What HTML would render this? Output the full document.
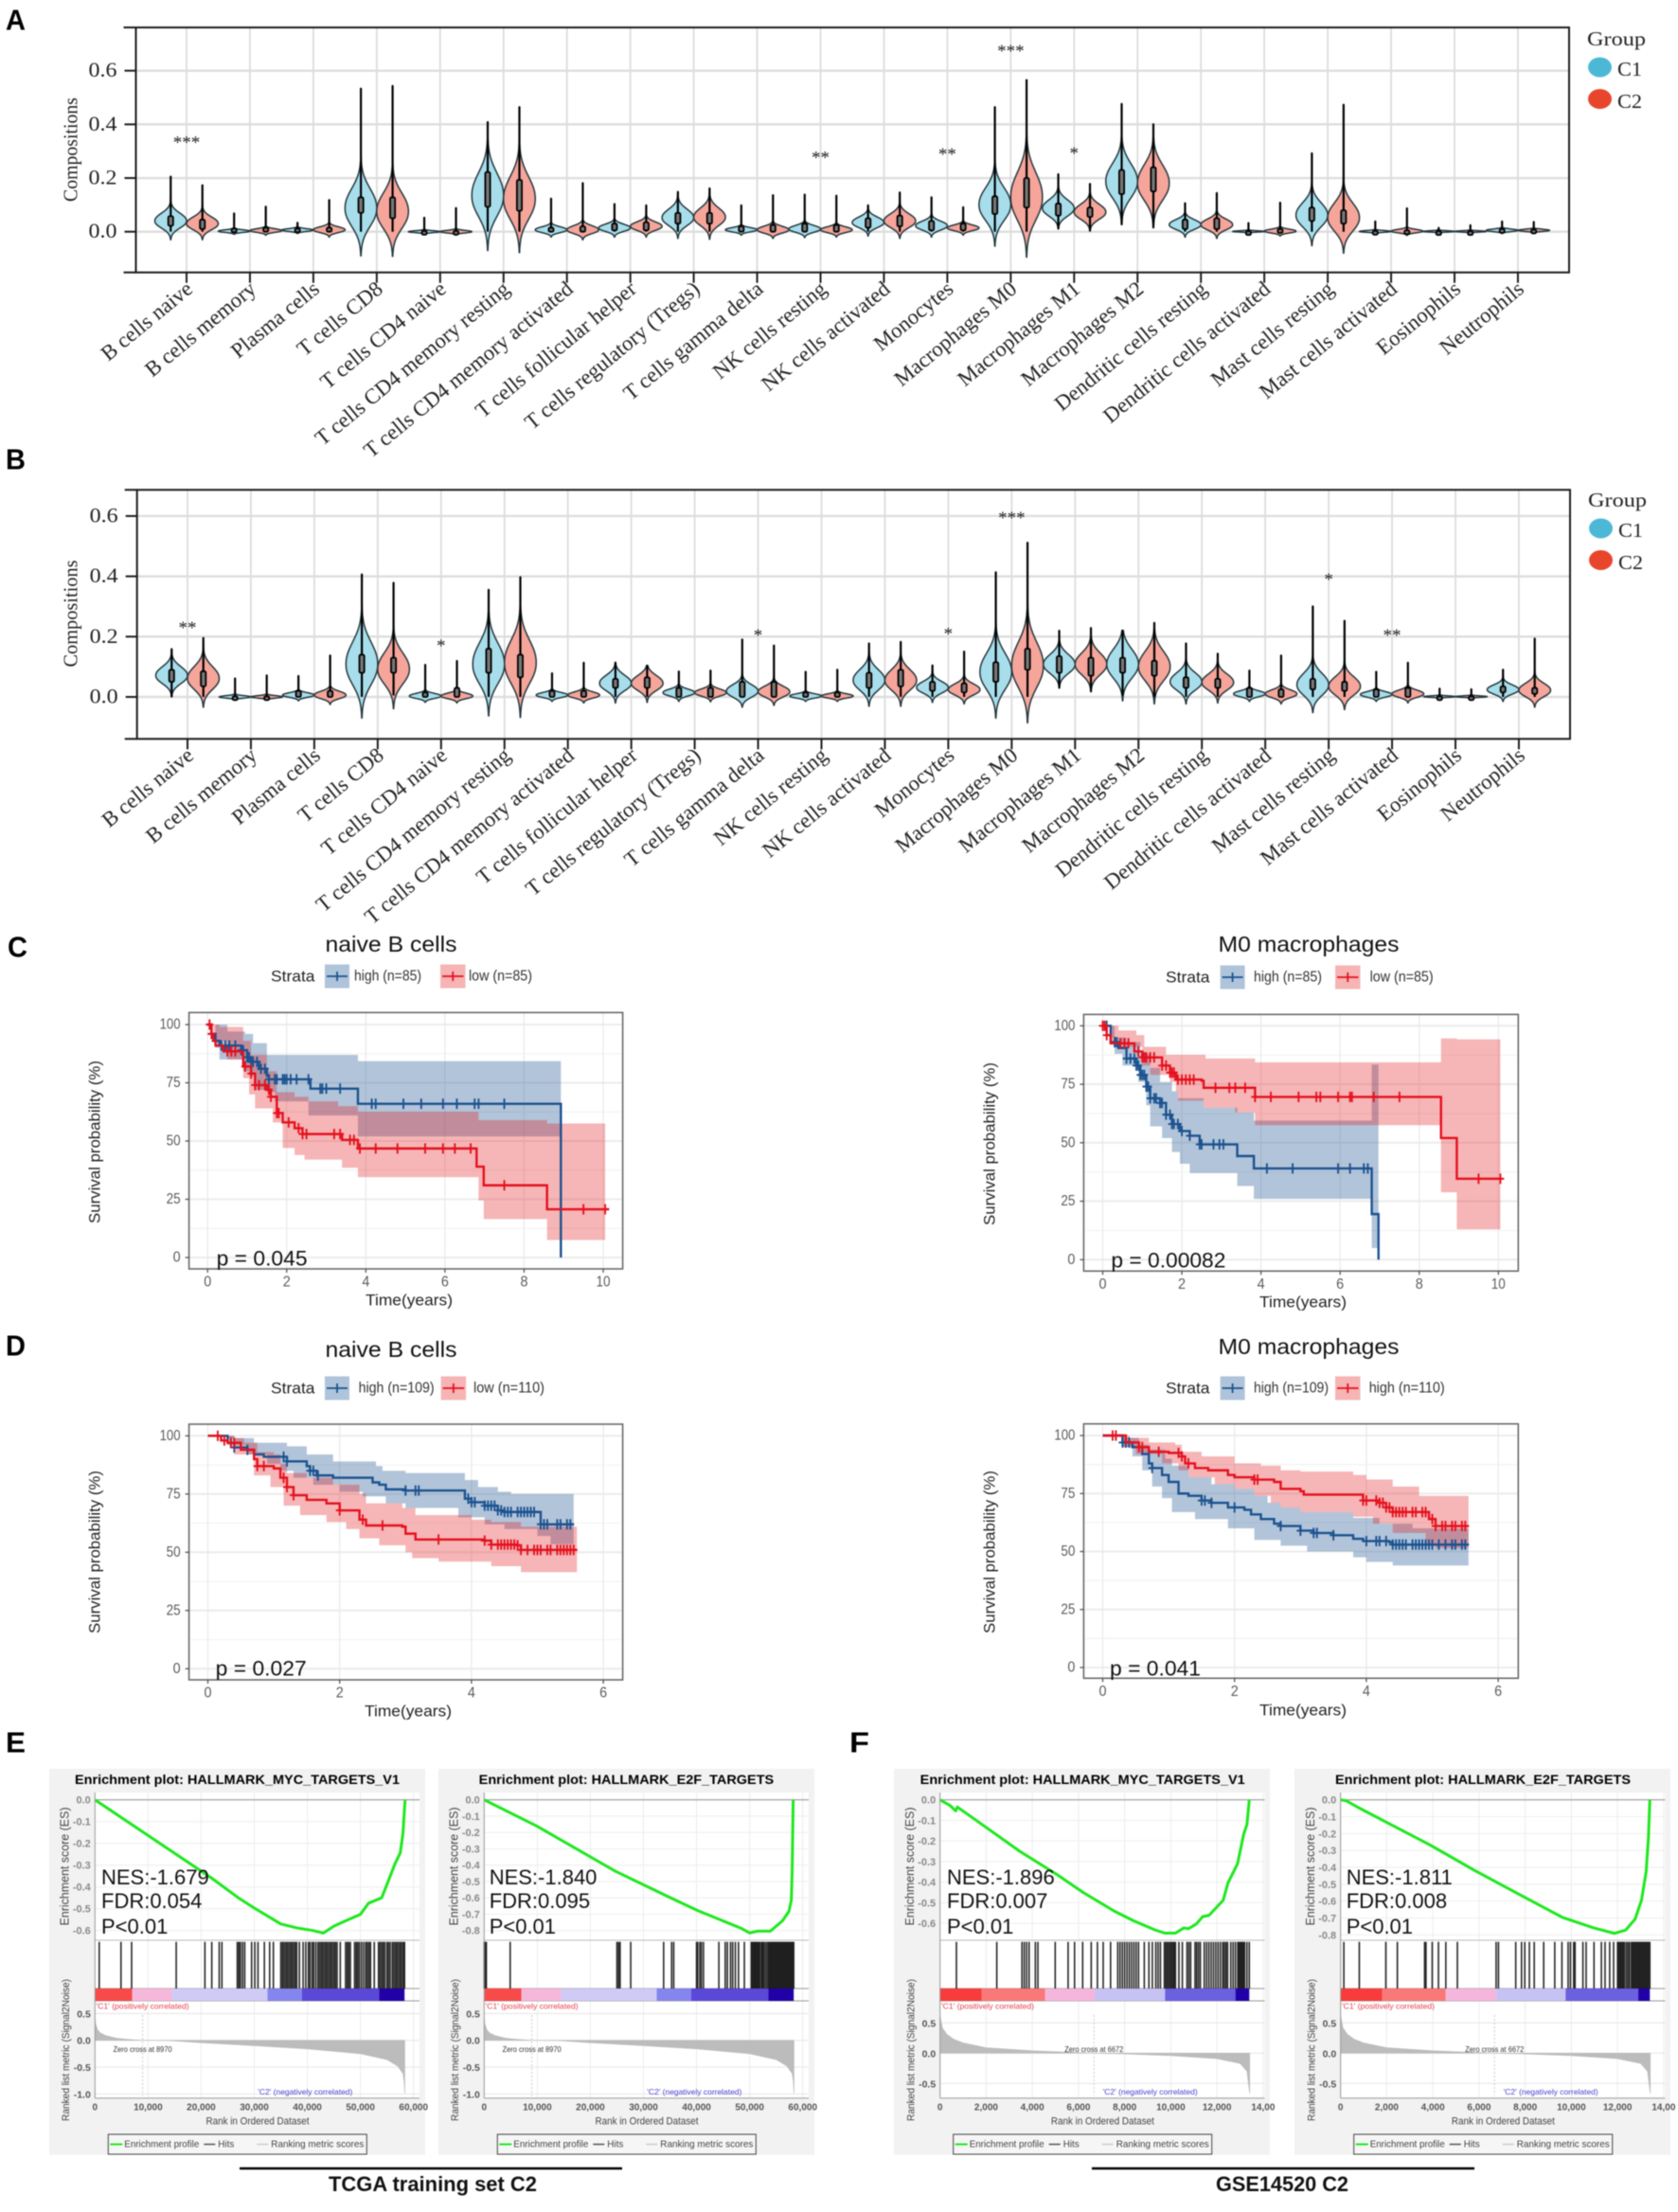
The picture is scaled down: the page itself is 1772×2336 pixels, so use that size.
<!DOCTYPE html>
<html lang="en">
<head>
<meta charset="utf-8">
<title>Immune infiltration, survival and GSEA figure</title>
<style>
html,body{margin:0;padding:0;background:#fff;}
#figure{display:block;width:1772px;height:2336px;filter:blur(0.55px);}
text{white-space:pre;}
</style>
</head>
<body>
<svg id="figure" xmlns="http://www.w3.org/2000/svg" width="1772" height="2336" viewBox="0 0 1772 2336"></svg>
<script>
/* ---------- violin data ---------- */
const cellTypes=["B cells naive","B cells memory","Plasma cells","T cells CD8","T cells CD4 naive","T cells CD4 memory resting","T cells CD4 memory activated","T cells follicular helper","T cells regulatory (Tregs)","T cells gamma delta","NK cells resting","NK cells activated","Monocytes","Macrophages M0","Macrophages M1","Macrophages M2","Dendritic cells resting","Dendritic cells activated","Mast cells resting","Mast cells activated","Eosinophils","Neutrophils"];
const violinTicks=["0.0","0.2","0.4","0.6"];
const violinTickValues=[0,0.2,0.4,0.6];
const aC1Max=[.207,.07,.035,.535,.054,.41,.125,.105,.15,.1,.14,.1,.13,.466,.216,.478,.108,.034,.294,.04,.016,.04];
const aC1Min=[-.03,-.01,-.007,-.09,-.009,-.07,-.02,-.02,-.025,-.013,-.022,-.016,-.02,-.054,.01,.026,-.02,-.005,-.052,-.007,-.004,-.007];
const aC1Mode=[.04,.002,.006,.087,0,.134,.007,.014,.052,.007,.01,.034,.022,.1,.087,.187,.026,.001,.061,.001,.001,.005];
const aC1Q1=[.022,0,0,.07,0,.093,0,.005,.03,0,0,.015,.005,.066,.06,.14,.01,0,.04,0,0,0];
const aC1Q3=[.058,.012,.012,.128,.003,.222,.015,.03,.07,.02,.03,.05,.04,.132,.105,.23,.045,.002,.09,.003,.002,.01];
const aC2Max=[.175,.095,.12,.545,.09,.466,.183,.1,.163,.138,.136,.148,.093,.567,.18,.402,.146,.11,.475,.089,.026,.038];
const aC2Min=[-.03,-.013,-.02,-.092,-.012,-.078,-.03,-.02,-.028,-.025,-.02,-.025,-.013,-.095,.002,.014,-.025,-.016,-.08,-.014,-.005,-.005];
const aC2Mode=[.03,.004,.007,.075,0,.122,.007,.02,.054,.007,.007,.04,.014,.128,.073,.18,.026,.002,.052,.002,.001,.005];
const aC2Q1=[.01,0,0,.05,0,.078,0,.005,.03,0,0,.02,.005,.09,.055,.15,.01,0,.03,0,0,0];
const aC2Q3=[.045,.015,.015,.128,.003,.193,.02,.035,.07,.025,.025,.06,.03,.2,.09,.24,.05,.01,.08,.005,.002,.008];
const aStars=["***","","","","","","","","","","**","","**","***","*","","","","","","",""];
const aStarValues=[.345,0,0,0,0,0,0,0,0,0,.288,0,.3,.685,.305,0,0,0,0,0,0,0];
const bC1Max=[.16,.063,.071,.408,.108,.357,.08,.115,.086,.192,.085,.179,.106,.415,.221,.221,.179,.089,.302,.085,.029,.092];
const bC1Min=[0,-.01,-.013,-.07,-.018,-.063,-.015,-.02,-.015,-.034,-.015,-.031,-.018,-.07,.029,-.013,-.023,-.015,-.052,-.015,-.005,-.015];
const bC1Mode=[.071,0,.006,.108,.003,.108,.006,.045,.014,.019,.003,.055,.031,.082,.108,.108,.05,.01,.04,.008,.001,.024];
const bC1Q1=[.05,0,0,.08,0,.08,0,.03,0,0,0,.03,.02,.05,.08,.08,.03,0,.025,0,0,.015];
const bC1Q3=[.09,.002,.02,.14,.015,.16,.02,.06,.03,.05,.015,.08,.05,.115,.135,.13,.065,.03,.06,.025,.002,.035];
const bC2Max=[.197,.073,.139,.38,.121,.399,.115,.105,.089,.172,.092,.184,.152,.513,.23,.247,.145,.139,.254,.115,.027,.195];
const bC2Min=[-.034,-.01,-.025,-.039,-.02,-.068,-.02,-.018,-.016,-.028,-.015,-.031,-.023,-.086,.017,-.023,-.02,-.023,-.042,-.02,-.005,-.034];
const bC2Mode=[.061,0,.006,.092,.003,.113,.006,.045,.014,.017,.003,.055,.024,.103,.108,.1,.048,.01,.035,.01,.001,.022];
const bC2Q1=[.035,0,0,.08,0,.065,0,.03,0,0,0,.035,.015,.09,.07,.07,.03,0,.02,0,0,.01];
const bC2Q3=[.085,.002,.02,.13,.03,.14,.02,.065,.03,.05,.015,.09,.045,.16,.13,.12,.06,.025,.05,.03,.002,.03];
const bStars=["**","","","","*","","","","","*","","","*","***","","","","","*","**","",""];
const bStarValues=[.24,0,0,0,.18,0,0,0,0,.215,0,0,.22,.605,0,0,0,0,.4,.215,0,0];

/* ---------- survival data: [years, survival %] ---------- */
const cLeftHigh=[[0,100],[.1,96],[.2,93],[.3,91],[.85,89],[1,86],[1.1,84],[1.3,81],[1.5,78],[1.55,76.5],[2.6,72.5],[3.8,66],[8.93,0]];
const cLeftHighUpper=[[0,100],[.5,97],[.95,96],[1.15,92],[1.5,87],[3.8,84.3],[8.93,84.3]];
const cLeftHighLower=[[0,100],[.2,90],[.3,85],[.9,80],[1.05,78],[1.2,72],[1.5,71],[1.7,67],[2.55,61],[3.8,52],[8.93,52]];
const cLeftHighCensor=[.1,.2,.35,.45,.55,.7,.85,.9,1,1.05,1.1,1.15,1.25,1.35,1.45,1.55,1.7,1.75,1.9,1.95,2,2.1,2.25,2.55,2.85,2.9,3,3.35,4.15,4.25,4.95,5.4,5.95,6.3,6.75,6.85,7.5];
const cLeftLow=[[0,100],[.1,96],[.15,93],[.2,91],[.4,88.5],[.85,88],[.9,82],[1.1,79],[1.2,74],[1.5,72],[1.6,69],[1.75,62],[1.9,58],[2.2,55.5],[2.4,53],[3.4,50.5],[3.8,46.8],[6.8,39],[6.98,31],[8.58,20.7],[10.15,20.7]];
const cLeftLowUpper=[[0,100],[.3,99],[.9,93],[1.1,87],[1.5,80],[1.75,71],[2.2,69],[2.55,67],[3.3,65],[3.8,62.6],[6.85,59],[8.58,57.5],[10.05,57.5]];
const cLeftLowLower=[[0,100],[.15,93],[.5,85],[.9,77],[1.05,70],[1.2,64],[1.65,58],[1.9,47],[2.2,44],[2.45,42],[3.4,38.5],[3.8,34.5],[6.85,24.5],[6.98,16.5],[8.58,7.5],[10.05,7.5]];
const cLeftLowCensor=[.05,.1,.5,.6,.7,.95,1.1,1.2,1.3,1.45,1.55,1.6,1.75,1.8,2.05,2.3,2.4,2.5,3.2,3.35,3.6,3.7,3.85,4.25,4.8,5.5,5.95,6.25,6.65,7.5,9.5,10.05];

const cRightHigh=[[0,100],[.2,93],[.4,90.5],[.6,86],[.85,83],[.95,79],[1.1,74],[1.2,69],[1.45,67],[1.6,62],[1.75,58],[1.95,55],[2.2,53],[2.45,49.3],[3.4,44.3],[3.82,39],[6.8,19.5],[6.97,0]];
const cRightHighUpper=[[0,100],[.2,95],[.6,93],[.95,88],[1.2,82],[1.45,76],[1.75,72],[1.9,69],[2.55,65],[3.4,63],[3.82,59.5],[6.8,83.4],[6.97,83.4]];
const cRightHighLower=[[0,100],[.3,88],[.5,83],[.9,76],[1.1,66],[1.2,57],[1.5,52],[1.75,46],[1.95,41],[2.2,37],[3.4,31.5],[3.82,26],[6.8,5],[6.97,5]];
const cRightHighCensor=[.1,.3,.35,.6,.7,.8,.85,.9,.95,1,1.05,1.1,1.15,1.2,1.3,1.35,1.45,1.5,1.6,1.7,1.75,1.8,1.9,2,2.2,2.45,2.5,2.8,2.95,3.05,4.15,4.8,5.95,6.25,6.6,6.7];
const cRightLow=[[0,100],[.1,96],[.2,92.5],[.65,92.5],[.8,89],[1,86.5],[1.5,83],[1.7,80],[1.85,77],[2.5,76.5],[2.55,73.5],[3.85,69.6],[8.55,52],[8.95,34.6],[10.1,34.6]];
const cRightLowUpper=[[0,100],[.4,98],[.85,96],[1.05,91],[1.6,87.6],[2.6,86],[3.85,84.4],[8.55,94.6],[8.95,94.2],[10.05,94.2]];
const cRightLowLower=[[0,100],[.2,93],[.5,91],[1,83],[1.2,79],[1.7,76],[1.85,72],[1.9,68],[2.55,65],[3.35,63],[3.85,57.5],[8.55,28.8],[8.95,13],[10.05,13]];
const cRightLowCensor=[0,.05,.1,.45,.55,.65,.9,1,1.05,1.1,1.2,1.3,1.5,1.6,1.7,1.75,1.8,1.9,2,2.1,2.2,2.3,2.85,3.2,3.35,3.6,3.85,4.25,4.95,5.4,5.5,5.95,6.25,6.3,6.85,7.5,9.5,10.05];

const dLeftHigh=[[0,100],[.3,97],[.4,95],[.6,94],[.7,92],[.85,91],[1.2,89],[1.5,87],[1.55,85],[1.65,83],[1.9,82],[2.5,80],[2.6,79],[2.7,77],[3,76.5],[3.9,73],[4,71.5],[4.2,70],[4.4,68],[4.5,67.3],[5.05,62],[5.55,62]];
const dLeftHighUpper=[[0,100],[.4,99],[.7,97],[1.2,95.5],[1.5,92],[1.9,89],[2.55,87],[2.65,85],[3,84],[3.9,81],[4.1,78],[4.4,76],[4.6,75],[5.55,75]];
const dLeftHighLower=[[0,100],[.3,96],[.6,92],[.9,88],[1.1,85],[1.3,82],[1.6,79],[2,76],[2.35,74],[2.7,71],[3,69],[3.8,65],[4.2,62],[4.5,60],[5,57],[5.2,53.5],[5.55,53.5]];
const dLeftHighCensor=[.35,.4,.6,1.15,1.2,1.55,1.6,1.67,3,3.15,3.2,3.95,4,4.05,4.2,4.25,4.3,4.35,4.4,4.45,4.5,4.55,4.6,4.7,4.75,4.8,4.85,4.9,4.95,5.05,5.1,5.15,5.3,5.35,5.45,5.5];
const dLeftLow=[[0,100],[.2,98],[.3,97],[.5,94],[.7,90],[.75,87],[1,86],[1.1,82],[1.2,78],[1.3,74.5],[1.5,72.5],[1.8,71],[2,68],[2.3,64],[2.4,61.5],[2.95,61],[3,58],[3.15,55.5],[4.2,55],[4.3,53.3],[4.7,53],[4.75,51],[5.6,51]];
const dLeftLowUpper=[[0,100],[.3,99],[.55,97],[.75,93],[1,92],[1.1,88],[1.2,84],[1.5,82],[1.9,79],[2.3,75],[2.4,71],[2.95,69],[3.15,66],[4,64],[4.3,63],[4.75,61],[5.6,60]];
const dLeftLowLower=[[0,100],[.4,92],[.7,83],[.95,78],[1.15,70],[1.4,66],[1.8,63],[2.1,60],[2.3,56],[2.6,53],[3,50],[3.1,47.5],[3.5,46],[4.3,44],[4.75,41.5],[5.6,41.5]];
const dLeftLowCensor=[.15,.25,.35,.4,.75,.85,1.15,1.2,1.3,2,2.35,2.65,3.5,4.2,4.3,4.4,4.45,4.5,4.55,4.6,4.65,4.7,4.75,4.85,4.95,5,5.05,5.15,5.2,5.3,5.35,5.4,5.45,5.5,5.55];

const dRightHigh=[[0,100],[.3,97],[.45,95],[.6,92],[.7,88],[.75,86],[.9,83],[1,80],[1.15,75],[1.3,74],[1.5,72],[1.65,71],[1.9,69],[2.15,68],[2.25,66],[2.4,64],[2.6,62],[2.7,61],[3,59],[3.2,58],[3.5,57],[3.8,55.5],[3.95,54.5],[4.35,54],[4.4,53],[5.55,53]];
const dRightHighUpper=[[0,100],[.3,99],[.55,96],[.7,94],[.95,90],[1.05,87],[1.3,82],[1.65,79],[2,77],[2.3,74],[2.5,71],[2.7,69],[3,67],[3.8,64.5],[4.2,62],[4.7,60],[5.55,58]];
const dRightHighLower=[[0,100],[.3,95],[.45,91],[.6,85],[.75,78],[.9,73],[1.05,67],[1.4,64],[1.9,60],[2.3,55],[2.7,52.5],[3.1,50],[3.8,47.5],[4,45.5],[4.4,44],[5.55,44]];
const dRightHighCensor=[.3,.35,.4,.75,1.5,1.55,1.65,2,2.7,3,3.2,3.25,3.5,4,4.15,4.2,4.3,4.4,4.45,4.5,4.55,4.6,4.7,4.75,4.8,4.85,4.9,4.95,5,5.1,5.2,5.3,5.35,5.45,5.5];
const dRightLow=[[0,100],[.35,97],[.55,95],[.7,93],[1,92.5],[1.2,91],[1.25,88],[1.4,86],[1.6,85],[1.9,83],[2,82],[2.3,81],[2.6,80],[2.7,77],[3,76],[3.05,74.5],[3.95,72],[4.2,71],[4.3,69],[4.4,67],[4.95,64],[5.05,61],[5.55,61]];
const dRightLowUpper=[[0,100],[.4,99],[.7,97],[1.1,96],[1.2,93],[1.5,91],[2,88],[2.4,87],[2.7,85],[3,84.5],[3.8,83],[4,81],[4.4,78],[4.8,74],[5.55,73]];
const dRightLowLower=[[0,100],[.3,95],[.5,92],[.9,88],[1.15,85],[1.3,82],[1.7,79],[2,77],[2.3,74],[2.55,71],[2.7,69],[3,67],[3.8,65],[4.1,62],[4.4,58],[4.9,53],[5.05,51.5],[5.55,51]];
const dRightLowCensor=[.15,.2,.55,.6,.85,1.15,1.2,1.3,2.3,2.35,3.95,4,4.15,4.2,4.25,4.3,4.35,4.4,4.45,4.5,4.55,4.6,4.7,4.75,4.85,4.9,5,5.05,5.15,5.2,5.3,5.35,5.45,5.5];
const survivalTicks=[0,25,50,75,100];
const timeTicksLong=[0,2,4,6,8,10];
const timeTicksShort=[0,2,4,6];

/* ---------- GSEA data: rank in thousands ---------- */
const esMycTcga=[[0,0],[22,-.36],[27,-.45],[30,-.497],[35,-.57],[38,-.588],[41,-.6],[43,-.612],[45,-.58],[47,-.558],[50,-.526],[51.5,-.475],[54,-.45],[55,-.388],[56.5,-.294],[57.5,-.243],[58,-.156],[58.4,0]];
const esE2fTcga=[[0,0],[9.87,-.16],[24.7,-.437],[34.8,-.595],[40.2,-.678],[48.5,-.788],[50,-.815],[51.5,-.804],[53.9,-.804],[56.2,-.74],[57.4,-.682],[57.85,-.614],[58,-.44],[58.2,0]];
const esMycGeo=[[0,0],[.44,-.028],[.68,-.054],[.75,-.035],[2.2,-.15],[3.45,-.25],[5.09,-.365],[6.2,-.45],[7.55,-.541],[8.37,-.587],[9.33,-.633],[9.74,-.648],[10.2,-.648],[10.56,-.623],[10.77,-.626],[11.1,-.604],[11.38,-.568],[11.66,-.561],[12.27,-.488],[12.48,-.403],[12.89,-.311],[13.16,-.166],[13.3,-.12],[13.4,0]];
const esE2fGeo=[[0,0],[.25,-.006],[.73,-.043],[1.96,-.131],[3.87,-.267],[5.79,-.417],[7.7,-.557],[9.62,-.697],[10.98,-.759],[11.87,-.791],[12.35,-.772],[12.76,-.707],[13.04,-.594],[13.24,-.426],[13.34,-.221],[13.4,0]];
const hitsMycTcga=[.8,4.9,6.9,15.3,20.7,22,23.4,23.9,26.8,27.1,27.4,27.8,28.2,29.5,30.1,30.7,31.9,32.9,33.6,35,35.3,35.6,35.9,36.2,36.5,36.8,37.1,37.4,37.7,38,38.5,39.2,39.7,40.2,40.5,40.9,41.2,41.6,42,42.3,42.6,42.9,43.2,43.5,43.8,44.1,44.4,44.7,45,45.3,45.6,46.2,47.2,47.5,47.8,48.1,48.9,49.2,49.5,49.8,50.2,50.6,51,51.3,51.6,51.9,52.6,53.4,53.7,54,54.3,54.6,55,55.3,55.6,56,56.3,56.6,56.9,57.2,57.5,57.8,58.1,58.3];
const hitsE2fTcga=[0,.2,.4,4.9,25,25.3,25.6,27.6,33.8,35.3,35.7,40,40.2,40.6,40.9,41.3,44.2,45.4,45.8,46.4,46.8,47.3,47.9,49,50.3,50.5,50.7,50.9,51.1,51.3,51.5,51.7,51.9,52.2,52.4,52.6,52.9,53.2,53.5,53.7,53.9,54.1,54.3,54.5,54.7,54.9,55.1,55.3,55.5,55.7,55.9,56.1,56.3,56.5,56.7,56.9,57.1,57.3,57.5,57.7,57.9,58.1,58.3];
const hitsMycGeo=[.71,2.46,3.55,3.65,3.75,3.86,4.13,4.24,4.99,5.55,5.83,6.18,6.55,6.82,7.07,7.39,7.7,7.8,7.9,8,8.1,8.2,8.3,8.4,8.5,8.6,8.85,9.05,9.2,9.35,9.45,9.55,9.72,9.78,9.84,9.9,9.96,10.02,10.08,10.14,10.2,10.35,10.5,10.7,10.78,10.86,11.05,11.12,11.2,11.28,11.45,11.55,11.65,11.75,11.85,11.95,12.05,12.15,12.25,12.32,12.39,12.46,12.6,12.7,12.8,12.9,12.95,13,13.05,13.1,13.15,13.2,13.3,13.4];
const hitsE2fGeo=[.14,.81,1.96,2.46,3.64,3.7,3.97,4.24,4.56,5.06,6.74,6.84,7.59,7.84,7.98,8.18,8.39,8.8,9.28,9.59,9.86,9.96,10.1,10.16,10.5,10.64,10.98,11.3,11.46,11.66,11.83,12,12.05,12.1,12.15,12.2,12.25,12.3,12.38,12.45,12.52,12.6,12.65,12.7,12.75,12.8,12.85,12.9,12.95,13,13.05,13.1,13.15,13.2,13.25,13.3,13.35,13.4];
const metricTcga=[[0,.42],[.15,.3],[.5,.2],[1,.14],[2,.09],[4,.04],[6,.02],[8.97,0],[14,-.005],[20,-.045],[30,-.1],[40,-.16],[50,-.25],[55,-.36],[57,-.48],[58,-.62],[58.2,-.75],[58.35,-.98]];
const metricGeo=[[0,.62],[.1,.42],[.3,.31],[.6,.23],[1,.17],[2,.09],[4,.04],[5.3,.02],[6.67,0],[8,-.012],[10,-.04],[12,-.09],[13,-.17],[13.3,-.3],[13.42,-.67]];
const barEndsTcga=[7,14.5,32.5,39,53.5,58.3];
const barEndsGeoA=[1.8,4.55,6.7,9.75,12.8,13.4];
const barEndsGeoB=[1.8,4.55,6.75,9.75,12.9,13.4];
const barColorsTcga=["#f94a4a","#f6b8da","#cfcbf6","#8585ee","#5a48d8","#2200a8"];
const barColorsGeo=["#f83c3c","#fa7878","#f5b6dc","#c6c2f4","#6a60e0","#2200a8"];
const rankTicksTcga=[0,10,20,30,40,50,60];
const rankLabelsTcga=["0","10,000","20,000","30,000","40,000","50,000","60,000"];
const rankTicksGeo=[0,2,4,6,8,10,12,14];
const rankLabelsGeo=["0","2,000","4,000","6,000","8,000","10,000","12,000","14,00"];
const esTicksMyc6=[0,-.1,-.2,-.3,-.4,-.5,-.6];
const esTicksE2f8=[0,-.1,-.2,-.3,-.4,-.5,-.6,-.7,-.8];
const metricTicksTcga=[.5,0,-.5,-1];
const metricTicksGeo=[.5,0,-.5];

/* ---------- helpers ---------- */
const NS='http://www.w3.org/2000/svg';
const root=document.getElementById('figure');
const SERIF='"Liberation Serif", serif';
const SANS='"Liberation Sans", sans-serif';
function node(parent,tag,name,attrs){
  const el=document.createElementNS(NS,tag);
  
  
  for(const k in attrs){el.setAttribute(k,attrs[k]);}
  parent.appendChild(el);
  return el;
}
function group(parent,name){return node(parent,'g',name,{});}
function line(p,name,x1,y1,x2,y2,stroke,w,extra){
  return node(p,'line',name,Object.assign({x1:x1,y1:y1,x2:x2,y2:y2,stroke:stroke,'stroke-width':w},extra||{}));
}
function label(p,name,str,x,y,o){
  o=o||{};
  const at={x:x,y:y,'font-family':o.family||SANS,'font-size':o.size||14,fill:o.fill||'#000','text-anchor':o.anchor||'start','dominant-baseline':'central'};
  if(o.weight)at['font-weight']=o.weight;
  if(o.len){at.textLength=o.len;at.lengthAdjust='spacingAndGlyphs';}
  if(o.rotate!==undefined)at.transform='rotate('+o.rotate+' '+x+' '+y+')';
  const el=node(p,'text',name,at);
  el.textContent=str;
  return el;
}
function slug(s){return s.toLowerCase().replace(/[^a-z0-9]+/g,'-').replace(/^-|-$/g,'');}

/* ---------- panel letters ---------- */
const panelLetters=[["A",6,21],["B",6,485],["C",8,1000],["D",6,1421],["E",6,1840],["F",897,1840]];
panelLetters.forEach(function(d){
  label(root,'panel-letter-'+d[0].toLowerCase(),d[0],d[1],d[2],{size:31,weight:'bold',len:21});
});

/* ---------- violin panels ---------- */
function violinPanel(cfg){
  const g=group(root,cfg.name);
  const xOf=function(i){return cfg.x0+i*cfg.step;};
  const yOf=function(v){return cfg.zero-v*cfg.unit;};
  const halfWidth=cfg.step*0.25;
  violinTickValues.forEach(function(v){
    line(g,'y-gridline',cfg.left,yOf(v),cfg.right,yOf(v),'#dedede',2.4);
  });
  cellTypes.forEach(function(c,i){
    line(g,'x-gridline',xOf(i),cfg.top,xOf(i),cfg.bottom,'#dcdcdc',1.8);
  });
  function drawViolin(i,side,gname,fill,vmax,vmin,mode,q1,q3){
    const cx=xOf(i)+side*cfg.step*0.25;
    const vg=group(g,'violin-'+slug(cellTypes[i])+'-'+gname);
    const sd=Math.max((mode-vmin)/2,0.003), su=sd*1.1;
    const prof=[];
    const N1=24,N2=60;
    for(let k=0;k<=N1;k++){const y=vmin+(mode-vmin)*k/N1;prof.push([y,Math.pow(Math.abs(mode-y)/sd,2.2)]);}
    for(let k=1;k<=N2;k++){const f=k/N2;const y=mode+(vmax-mode)*f*f;prof.push([y,Math.pow(Math.abs(y-mode)/su,2.2)]);}
    let right='',left='';
    prof.forEach(function(p,idx){
      const w=halfWidth*Math.exp(-p[1]);
      right+=(idx?'L':'M')+(cx+w).toFixed(2)+' '+yOf(p[0]).toFixed(2);
    });
    for(let idx=prof.length-1;idx>=0;idx--){
      const w=halfWidth*Math.exp(-prof[idx][1]);
      left+='L'+(cx-w).toFixed(2)+' '+yOf(prof[idx][0]).toFixed(2);
    }
    node(vg,'path','violin-body',{d:right+left+'Z',fill:fill,stroke:'#24373c','stroke-width':1.5,'stroke-linejoin':'round'});
    const iqr=q3-q1;
    const low=Math.max(vmin,Math.min(q1,Math.max(0,q1-1.5*iqr)));
    line(vg,'violin-whisker',cx,yOf(low),cx,yOf(vmax),'#000',2.2);
    const h=Math.max(yOf(q1)-yOf(q3),4);
    node(vg,'rect','violin-box',{x:cx-2.6,y:yOf(q3),width:5.2,height:h,fill:'#777',stroke:'#000','stroke-width':1.8,rx:1.5});
  }
  cellTypes.forEach(function(c,i){
    drawViolin(i,-1,'c1','#A8DEEC',cfg.c1Max[i],cfg.c1Min[i],cfg.c1Mode[i],cfg.c1Q1[i],cfg.c1Q3[i]);
    drawViolin(i,1,'c2','#F6A59B',cfg.c2Max[i],cfg.c2Min[i],cfg.c2Mode[i],cfg.c2Q1[i],cfg.c2Q3[i]);
  });
  node(g,'rect','plot-border',{x:cfg.left,y:cfg.top,width:cfg.right-cfg.left,height:cfg.bottom-cfg.top,fill:'none',stroke:'#1c1c1c','stroke-width':2});
  line(g,'axis-end-top',cfg.left-13,cfg.top,cfg.left,cfg.top,'#1c1c1c',2);
  line(g,'axis-end-bottom',cfg.left-13,cfg.bottom,cfg.left,cfg.bottom,'#1c1c1c',2);
  violinTickValues.forEach(function(v,i){
    line(g,'y-tick',cfg.left-12,yOf(v),cfg.left,yOf(v),'#1c1c1c',2);
    label(g,'y-tick-label',violinTicks[i],cfg.left-20,yOf(v)-1,{family:SERIF,size:22,anchor:'end',fill:'#222',len:30});
  });
  cellTypes.forEach(function(c,i){
    const x=xOf(i);
    line(g,'x-tick',x,cfg.bottom,x,cfg.bottom+11,'#1c1c1c',2);
    label(g,'x-tick-label',c,x+3,cfg.bottom+14,{family:SERIF,size:22.7,anchor:'end',fill:'#222',rotate:-39.5});
    if(cfg.stars[i]){
      label(g,'significance-stars',cfg.stars[i],x,yOf(cfg.starValues[i])+4,{family:SERIF,size:19,anchor:'middle',fill:'#222'});
    }
  });
  label(g,'y-axis-title','Compositions',74.5,cfg.titleY,{family:SERIF,size:21,anchor:'middle',fill:'#222',rotate:-90,len:cfg.titleLen});
  const lg=group(g,'group-legend');
  label(lg,'legend-title','Group',cfg.legendX,cfg.legendY,{family:SERIF,size:21,fill:'#222',len:62});
  node(lg,'ellipse','legend-swatch-c1',{cx:cfg.legendX+13.5,cy:cfg.legendY+30,rx:12.5,ry:10.5,fill:'#4DB8D6'});
  label(lg,'legend-label-c1','C1',cfg.legendX+32,cfg.legendY+32,{family:SERIF,size:21,fill:'#222',len:26});
  node(lg,'ellipse','legend-swatch-c2',{cx:cfg.legendX+13.5,cy:cfg.legendY+63.5,rx:12.5,ry:10.5,fill:'#E7462D'});
  label(lg,'legend-label-c2','C2',cfg.legendX+32,cfg.legendY+66,{family:SERIF,size:21,fill:'#222',len:26});
}
violinPanel({name:'panel-a-violin-chart',left:143.5,right:1657,top:29,bottom:287.7,x0:197,step:66.95,zero:244.7,unit:283.4,
  c1Max:aC1Max,c1Min:aC1Min,c1Mode:aC1Mode,c1Q1:aC1Q1,c1Q3:aC1Q3,c2Max:aC2Max,c2Min:aC2Min,c2Mode:aC2Mode,c2Q1:aC2Q1,c2Q3:aC2Q3,
  stars:aStars,starValues:aStarValues,titleY:158,titleLen:110,legendX:1676,legendY:41});
violinPanel({name:'panel-b-violin-chart',left:144.7,right:1658,top:517.3,bottom:780.3,x0:198,step:66.95,zero:736,unit:318.4,
  c1Max:bC1Max,c1Min:bC1Min,c1Mode:bC1Mode,c1Q1:bC1Q1,c1Q3:bC1Q3,c2Max:bC2Max,c2Min:bC2Min,c2Mode:bC2Mode,c2Q1:bC2Q1,c2Q3:bC2Q3,
  stars:bStars,starValues:bStarValues,titleY:648,titleLen:113,legendX:1677,legendY:528});

/* ---------- survival panels ---------- */
function survivalAt(curve,t){
  let s=curve[0][1];
  for(let i=0;i<curve.length;i++){if(curve[i][0]<=t)s=curve[i][1];}
  return s;
}
function stepPath(curve,xOf,yOf){
  let d='M'+xOf(curve[0][0]).toFixed(2)+' '+yOf(curve[0][1]).toFixed(2);
  for(let i=1;i<curve.length;i++){
    d+='H'+xOf(curve[i][0]).toFixed(2)+'V'+yOf(curve[i][1]).toFixed(2);
  }
  return d;
}
function bandPath(up,lo,xOf,yOf){
  let d=stepPath(up,xOf,yOf);
  const endX=Math.max(up[up.length-1][0],lo[lo.length-1][0]);
  d+='H'+xOf(endX).toFixed(2);
  for(let i=lo.length-1;i>=0;i--){
    d+='V'+yOf(lo[i][1]).toFixed(2)+'H'+xOf(lo[i][0]).toFixed(2);
  }
  return d+'Z';
}
function survivalPanel(c){
  const g=group(root,c.name);
  const xOf=function(t){return c.x0+t*c.xUnit;};
  const yOf=function(s){return c.y100+(100-s)*c.yUnit;};
  node(g,'rect','plot-background',{x:c.left,y:c.top,width:c.right-c.left,height:c.bottom-c.top,fill:'#fff'});
  survivalTicks.forEach(function(s,i){
    line(g,'y-gridline-major',c.left,yOf(s),c.right,yOf(s),'#ececec',2);
    if(i<survivalTicks.length-1){line(g,'y-gridline-minor',c.left,yOf(s+12.5),c.right,yOf(s+12.5),'#f3f3f3',1.2);}
  });
  c.xTicks.forEach(function(t){
    line(g,'x-gridline',xOf(t),c.top,xOf(t),c.bottom,'#e9e9e9',1.2);
  });
  node(g,'path','confidence-band-high',{d:bandPath(c.highUp,c.highLo,xOf,yOf),fill:'#2E6099','fill-opacity':.37});
  node(g,'path','confidence-band-low',{d:bandPath(c.lowUp,c.lowLo,xOf,yOf),fill:'#E41A1C','fill-opacity':.32});
  function drawCurve(curve,censor,color,name){
    node(g,'path','survival-curve-'+name,{d:stepPath(curve,xOf,yOf),fill:'none',stroke:color,'stroke-width':2.4});
    censor.forEach(function(t){
      const x=xOf(t),y=yOf(survivalAt(curve,t));
      line(g,'censor-mark-'+name,x,y-5.5,x,y+5.5,color,1.9);
      line(g,'censor-mark-'+name,x-4,y,x+4,y,color,1.9);
    });
  }
  drawCurve(c.high,c.highCensor,'#1B528F','high');
  drawCurve(c.low,c.lowCensor,'#E5101D','low');
  node(g,'rect','plot-border',{x:c.left,y:c.top,width:c.right-c.left,height:c.bottom-c.top,fill:'none',stroke:'#6a6a6a','stroke-width':1.6});
  survivalTicks.forEach(function(s){
    line(g,'y-tick',c.left-4,yOf(s),c.left,yOf(s),'#555',1.3);
    label(g,'y-tick-label',String(s),c.left-9,yOf(s),{size:15.5,anchor:'end',fill:'#5a5a5a',len:s===100?22:(s===0?8:15)});
  });
  c.xTicks.forEach(function(t){
    line(g,'x-tick',xOf(t),c.bottom,xOf(t),c.bottom+4,'#555',1.3);
    label(g,'x-tick-label',String(t),xOf(t),c.bottom+14,{size:15.5,anchor:'middle',fill:'#5a5a5a',len:t===10?15:8});
  });
  label(g,'x-axis-title','Time(years)',c.xTitleX,c.xTitleY,{size:17,anchor:'middle',fill:'#222',len:92});
  label(g,'y-axis-title','Survival probability (%)',c.yTitleX,c.yTitleY,{size:17,anchor:'middle',fill:'#222',rotate:-90,len:172});
  label(g,'chart-title',c.title,c.titleX,c.titleY,{size:23,anchor:'middle',fill:'#111',len:c.titleLen});
  label(g,'p-value',c.p,c.pX,c.pY,{size:22,fill:'#111',len:c.pLen});
  const lg=group(g,'strata-legend');
  label(lg,'legend-title','Strata',c.strataX,c.legendY,{size:17,fill:'#222',len:46.5});
  function key(x,w,fill,color,name){
    node(lg,'rect','legend-key-'+name,{x:x,y:c.legendY-12.5,width:w,height:25,fill:fill});
    line(lg,'legend-key-line-'+name,x+2,c.legendY,x+w-2,c.legendY,color,1.8);
    line(lg,'legend-key-cross-'+name,x+w/2,c.legendY-5,x+w/2,c.legendY+5,color,1.8);
  }
  key(c.key1X,26,'#AFC4DA','#1B528F','high');
  key(c.key2X,26.5,'#F6B4B4','#E5101D','low');
  label(lg,'legend-label-high',c.label1,c.label1X,c.legendY,{size:15.5,fill:'#333',len:c.label1Len});
  label(lg,'legend-label-low',c.label2,c.label2X,c.legendY,{size:15.5,fill:'#333',len:c.label2Len});
}
survivalPanel({name:'panel-c-survival-naive-b-cells',left:199.6,right:657.6,top:1069.3,bottom:1340,x0:219.2,xUnit:41.78,y100:1082,yUnit:2.46,xTicks:timeTicksLong,
  high:cLeftHigh,highUp:cLeftHighUpper,highLo:cLeftHighLower,highCensor:cLeftHighCensor,low:cLeftLow,lowUp:cLeftLowUpper,lowLo:cLeftLowLower,lowCensor:cLeftLowCensor,
  xTitleX:432,xTitleY:1373,yTitleX:100,yTitleY:1206,title:'naive B cells',titleX:413,titleY:997,titleLen:139,p:'p = 0.045',pX:228.6,pY:1329,pLen:96,
  strataX:286,legendY:1031,key1X:343,key2X:465,label1:'high (n=85)',label1X:374,label1Len:71,label2:'low (n=85)',label2X:495,label2Len:67});
survivalPanel({name:'panel-c-survival-m0-macrophages',left:1144.4,right:1603.3,top:1071.3,bottom:1342.3,x0:1164.5,xUnit:41.78,y100:1083.3,yUnit:2.47,xTicks:timeTicksLong,
  high:cRightHigh,highUp:cRightHighUpper,highLo:cRightHighLower,highCensor:cRightHighCensor,low:cRightLow,lowUp:cRightLowUpper,lowLo:cRightLowLower,lowCensor:cRightLowCensor,
  xTitleX:1376,xTitleY:1375,yTitleX:1045,yTitleY:1208,title:'M0 macrophages',titleX:1382,titleY:997,titleLen:191,p:'p = 0.00082',pX:1173.4,pY:1331,pLen:121,
  strataX:1231,legendY:1032,key1X:1288.6,key2X:1410,label1:'high (n=85)',label1X:1324,label1Len:72,label2:'low (n=85)',label2X:1446.6,label2Len:67});
survivalPanel({name:'panel-d-survival-naive-b-cells',left:199.6,right:657.6,top:1504,bottom:1774,x0:219.5,xUnit:69.6,y100:1516.3,yUnit:2.46,xTicks:timeTicksShort,
  high:dLeftHigh,highUp:dLeftHighUpper,highLo:dLeftHighLower,highCensor:dLeftHighCensor,low:dLeftLow,lowUp:dLeftLowUpper,lowLo:dLeftLowLower,lowCensor:dLeftLowCensor,
  xTitleX:431,xTitleY:1807,yTitleX:100,yTitleY:1639,title:'naive B cells',titleX:413,titleY:1425,titleLen:139,p:'p = 0.027',pX:227.7,pY:1762,pLen:96,
  strataX:286,legendY:1466,key1X:343,key2X:465.6,label1:'high (n=109)',label1X:378.6,label1Len:80,label2:'low (n=110)',label2X:500,label2Len:75});
survivalPanel({name:'panel-d-survival-m0-macrophages',left:1144.4,right:1603.3,top:1503.7,bottom:1772.3,x0:1164.5,xUnit:69.6,y100:1516,yUnit:2.45,xTicks:timeTicksShort,
  high:dRightHigh,highUp:dRightHighUpper,highLo:dRightHighLower,highCensor:dRightHighCensor,low:dRightLow,lowUp:dRightLowUpper,lowLo:dRightLowLower,lowCensor:dRightLowCensor,
  xTitleX:1376,xTitleY:1806,yTitleX:1045,yTitleY:1639,title:'M0 macrophages',titleX:1382,titleY:1422,titleLen:191,p:'p = 0.041',pX:1172,pY:1762,pLen:96,
  strataX:1231,legendY:1466,key1X:1288.6,key2X:1410,label1:'high (n=109)',label1X:1324,label1Len:79,label2:'high (n=110)',label2X:1445.7,label2Len:80});

/* ---------- GSEA panels ---------- */
function gseaPanel(c){
  const g=group(root,c.name);
  const L=c.left, R=L+342.7, TOP=1893, ES0=1900.7, ESB=2049, HT=2050.7, HB=2100, BB=2113, MB=2215.7;
  const xOf=function(r){return L+r*c.rankUnit;};
  const esY=function(v){return ES0-v*c.esUnit;};
  const mY=function(v){return c.metricZero-v*c.metricUnit;};
  node(g,'rect','panel-background',{x:c.bgLeft,y:1868,width:397,height:407.7,fill:'#f2f2f2'});
  node(g,'rect','plot-background',{x:L,y:TOP,width:R-L,height:MB-TOP,fill:'#fff'});
  label(g,'chart-title',c.title,c.titleX,1879,{size:14,weight:'bold',fill:'#000',len:c.titleLen});
  c.rankTicks.forEach(function(r){
    line(g,'x-gridline',xOf(r),TOP,xOf(r),MB,'#ececec',1);
  });
  c.esTicks.forEach(function(v){
    line(g,'es-gridline',L,esY(v),R,esY(v),'#eeeeee',1);
  });
  c.metricTicks.forEach(function(v){
    line(g,'metric-gridline',L,mY(v),R,mY(v),'#e6e6e6',1);
  });
  line(g,'es-zero-line',L,ES0,R,ES0,'#aaa',1.4);
  line(g,'section-divider',L,ESB,R,ESB,'#bbb',1);
  line(g,'section-divider',L,HB,R,HB,'#999',1);
  line(g,'section-divider',L,BB,R,BB,'#999',1);
  let es='';
  c.es.forEach(function(p,i){es+=(i?'L':'M')+xOf(p[0]).toFixed(2)+' '+esY(p[1]).toFixed(2);});
  node(g,'path','enrichment-profile-curve',{d:es,fill:'none',stroke:'#1EE81E','stroke-width':3,'stroke-linejoin':'round'});
  c.hits.forEach(function(r){
    line(g,'hit-line',xOf(r),HT,xOf(r),HB,'#111',1.6,{'stroke-opacity':.9});
  });
  let barStart=0;
  c.barEnds.forEach(function(e,i){
    node(g,'rect','ranked-list-color-segment',{x:xOf(barStart),y:HB,width:xOf(e)-xOf(barStart),height:BB-HB,fill:c.barColors[i]});
    barStart=e;
  });
  let m='M'+xOf(0).toFixed(2)+' '+mY(0).toFixed(2);
  c.metric.forEach(function(p){m+='L'+xOf(p[0]).toFixed(2)+' '+mY(p[1]).toFixed(2);});
  m+='L'+xOf(c.metric[c.metric.length-1][0]).toFixed(2)+' '+mY(0).toFixed(2)+'Z';
  node(g,'path','ranking-metric-area',{d:m,fill:'#bcbcbc',stroke:'#b5b5b5','stroke-width':.5});
  line(g,'zero-cross-line',xOf(c.zeroCross),2128,xOf(c.zeroCross),2213,'#ccc',1,{'stroke-dasharray':'2 2'});
  label(g,'zero-cross-label',c.zeroLabel,xOf(c.zeroCross),2164,{size:8.5,anchor:'middle',fill:'#333',len:62});
  label(g,'positive-correlation-label',"'C1' (positively correlated)",L+1.3,2118.7,{size:8.5,fill:'#e84050',len:98});
  label(g,'negative-correlation-label',"'C2' (negatively correlated)",L+172,2209,{size:8.5,fill:'#4a3fd0',len:100});
  node(g,'line','plot-left-axis',{x1:L,y1:TOP,x2:L,y2:MB,stroke:'#999','stroke-width':1});
  line(g,'plot-bottom-axis',L,MB,R,MB,'#999',1);
  c.esTicks.forEach(function(v){
    label(g,'es-tick-label',v.toFixed(1),L-4.5,esY(v)+1,{size:11,weight:'bold',anchor:'end',fill:'#8a8a8a'});
  });
  c.metricTicks.forEach(function(v){
    label(g,'metric-tick-label',v.toFixed(1),L-4.5,mY(v)+1,{size:10.5,weight:'bold',anchor:'end',fill:'#555'});
  });
  c.rankTicks.forEach(function(r,i){
    label(g,'rank-tick-label',c.rankLabels[i],xOf(r),2226,{size:10,weight:'bold',anchor:'middle',fill:'#555'});
  });
  label(g,'rank-axis-title','Rank in Ordered Dataset',L+171.7,2240.7,{size:11,anchor:'middle',fill:'#444',len:109});
  label(g,'es-axis-title','Enrichment score (ES)',L-32.3,1971,{size:13,anchor:'middle',fill:'#444',rotate:-90,len:125});
  label(g,'metric-axis-title','Ranked list metric (Signal2Noise)',L-30.3,2165,{size:11,anchor:'middle',fill:'#444',rotate:-90,len:150});
  const stats=group(g,'enrichment-statistics');
  label(stats,'nes-value',c.nes,c.statX,1982.5,{size:22,fill:'#111'});
  label(stats,'fdr-value',c.fdr,c.statX,2007.5,{size:22,fill:'#111'});
  label(stats,'p-value','P<0.01',c.statX,2034.5,{size:22,fill:'#111'});
  const lg=group(g,'gsea-legend');
  node(lg,'rect','legend-frame',{x:L+14,y:2254,width:273,height:21,fill:'#f6f6f6',stroke:'#444','stroke-width':1});
  line(lg,'legend-line-enrichment',L+16,2264.5,L+29,2264.5,'#1EE81E',2);
  label(lg,'legend-label-enrichment','Enrichment profile',L+31,2264.5,{size:10.5,fill:'#444',len:79});
  line(lg,'legend-line-hits',L+115,2264.5,L+127,2264.5,'#555',1.5);
  label(lg,'legend-label-hits','Hits',L+130,2264.5,{size:10.5,fill:'#444',len:17});
  line(lg,'legend-line-metric',L+171,2264.5,L+183,2264.5,'#ccc',1.5);
  label(lg,'legend-label-metric','Ranking metric scores',L+186,2264.5,{size:10.5,fill:'#444',len:98});
}
gseaPanel({name:'panel-e-gsea-myc-targets',bgLeft:52,left:100.3,rankUnit:5.607,title:'Enrichment plot: HALLMARK_MYC_TARGETS_V1',titleX:79,titleLen:343,
  es:esMycTcga,esTicks:esTicksMyc6,esUnit:230,hits:hitsMycTcga,barEnds:barEndsTcga,barColors:barColorsTcga,metric:metricTcga,metricTicks:metricTicksTcga,metricZero:2154.7,metricUnit:56.67,
  rankTicks:rankTicksTcga,rankLabels:rankLabelsTcga,zeroCross:8.97,zeroLabel:'Zero cross at 8970',nes:'NES:-1.679',fdr:'FDR:0.054',statX:107});
gseaPanel({name:'panel-e-gsea-e2f-targets',bgLeft:463,left:511.3,rankUnit:5.607,title:'Enrichment plot: HALLMARK_E2F_TARGETS',titleX:505.7,titleLen:311.5,
  es:esE2fTcga,esTicks:esTicksE2f8,esUnit:172.5,hits:hitsE2fTcga,barEnds:barEndsTcga,barColors:barColorsTcga,metric:metricTcga,metricTicks:metricTicksTcga,metricZero:2154.7,metricUnit:56.67,
  rankTicks:rankTicksTcga,rankLabels:rankLabelsTcga,zeroCross:8.97,zeroLabel:'Zero cross at 8970',nes:'NES:-1.840',fdr:'FDR:0.095',statX:516.7});
gseaPanel({name:'panel-f-gsea-myc-targets',bgLeft:944,left:992.7,rankUnit:24.37,title:'Enrichment plot: HALLMARK_MYC_TARGETS_V1',titleX:971.7,titleLen:343,
  es:esMycGeo,esTicks:esTicksMyc6,esUnit:217.3,hits:hitsMycGeo,barEnds:barEndsGeoA,barColors:barColorsGeo,metric:metricGeo,metricTicks:metricTicksGeo,metricZero:2168.3,metricUnit:64,
  rankTicks:rankTicksGeo,rankLabels:rankLabelsGeo,zeroCross:6.67,zeroLabel:'Zero cross at 6672',nes:'NES:-1.896',fdr:'FDR:0.007',statX:1000});
gseaPanel({name:'panel-f-gsea-e2f-targets',bgLeft:1367,left:1415.7,rankUnit:24.37,title:'Enrichment plot: HALLMARK_E2F_TARGETS',titleX:1410,titleLen:312,
  es:esE2fGeo,esTicks:esTicksE2f8,esUnit:178.3,hits:hitsE2fGeo,barEnds:barEndsGeoB,barColors:barColorsGeo,metric:metricGeo,metricTicks:metricTicksGeo,metricZero:2168.3,metricUnit:64,
  rankTicks:rankTicksGeo,rankLabels:rankLabelsGeo,zeroCross:6.67,zeroLabel:'Zero cross at 6672',nes:'NES:-1.811',fdr:'FDR:0.008',statX:1421.7});

/* ---------- captions ---------- */
line(root,'tcga-caption-rule',253,2290,657,2290,'#000',2.4);
label(root,'tcga-caption','TCGA training set C2',347,2306.5,{size:22,weight:'bold',fill:'#111',len:220});
line(root,'geo-caption-rule',1153,2290,1557,2290,'#000',2.4);
label(root,'geo-caption','GSE14520 C2',1284,2306.5,{size:22,weight:'bold',fill:'#111',len:140});
</script>
</body>
</html>
